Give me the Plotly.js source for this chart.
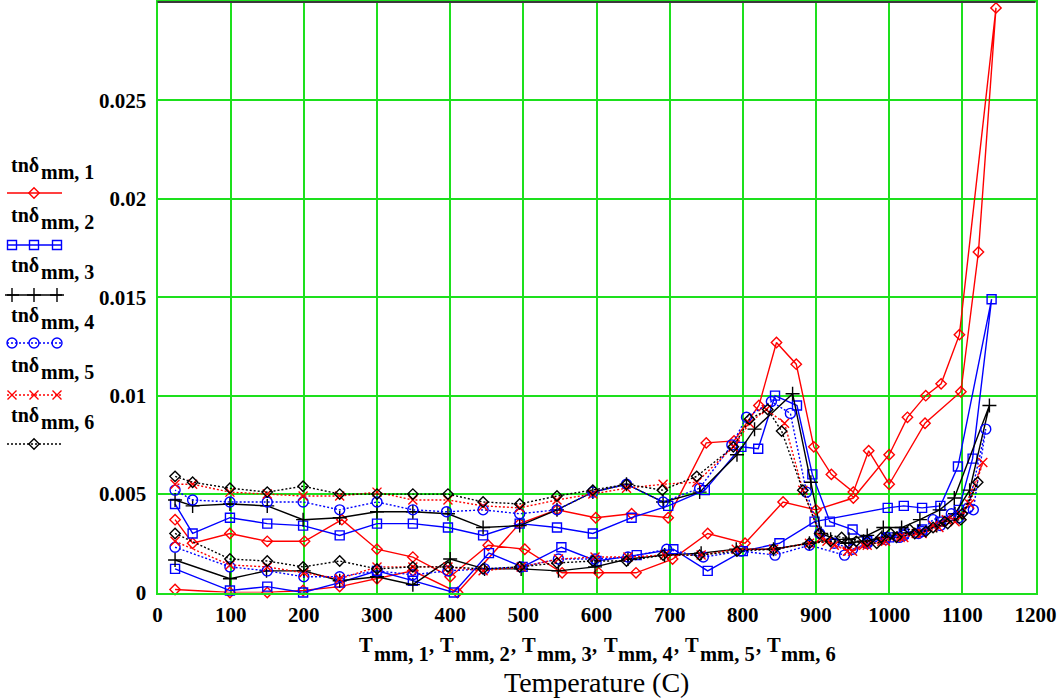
<!DOCTYPE html>
<html><head><meta charset="utf-8">
<script src="https://cdn.plot.ly/plotly-3.0.1.min.js"></script>
<style>html,body{margin:0;padding:0;background:#fff;}#chart{width:1064px;height:698px;}</style>
</head><body><div id="chart"></div>
<script>
// ---------------- DATA ----------------
const xTicks = [0,100,200,300,400,500,600,700,800,900,1000,1100,1200];
const yTicks = [0,0.005,0.01,0.015,0.02,0.025];
const yTickText = ['0','0.005','0.01','0.015','0.02','0.025'];
const seriesLabels = ['1','2','3','4','5','6'];

const t1 = [24,99,150,199,249,300,349,410,495,546,599,648,698,750,788,822,846,873,897,921,951,972,1000,1049,1098,1122,1146,1096,1071,1050,1025,1000,951,900,855,803,752,704,654,603,553,502,452,400,349,300,252,201,150,99,48,24];
const v1 = [0.00015,0,0,0.0001,0.0003,0.0007,0.0011,0,0.0035,0.0042,0.0038,0.0040,0.0038,0.0076,0.0077,0.0095,0.0127,0.0116,0.0074,0.0060,0.0051,0.0072,0.0055,0.0086,0.0102,0.0173,0.0297,0.0131,0.0106,0.0100,0.0089,0.0070,0.0048,0.0042,0.0046,0.0025,0.0030,0.0017,0.0010,0.0010,0.0010,0.0022,0.0024,0.0008,0.0018,0.0022,0.0037,0.0026,0.0026,0.0030,0.0025,0.0037];

const t2 = [24,99,150,199,249,300,349,405,453,499,552,600,655,705,752,800,850,898,998,1020,1045,1070,1094,1140,1114,1095,1070,1045,1020,1000,970,950,919,895,874,844,821,798,748,698,648,595,546,495,445,397,349,300,249,199,150,99,48,24];
const v2 = [0.0012,0.0001,0.0003,0,0.0005,0.0011,0.0006,0,0.0020,0.0013,0.0023,0.0016,0.0019,0.0022,0.0011,0.0021,0.0025,0.0036,0.0043,0.0044,0.0043,0.0044,0.0064,0.0149,0.0068,0.0042,0.0036,0.0032,0.0030,0.0028,0.0026,0.0032,0.0036,0.0060,0.0095,0.0100,0.0073,0.0074,0.0052,0.0044,0.0038,0.0030,0.0033,0.0035,0.0029,0.0033,0.0035,0.0035,0.0029,0.0034,0.0035,0.0038,0.0030,0.0045];

const t3 = [24,99,149,200,249,300,349,400,447,497,548,598,643,693,743,791,842,891,920,945,970,992,1017,1042,1069,1089,1137,1110,1090,1065,1040,1015,990,965,940,907,893,868,816,792,741,691,641,595,546,495,445,397,349,300,249,199,150,99,48,24];
const v3 = [0.00165,0.0007,0.0011,0.0011,0.0006,0.0008,0.0004,0.0017,0.0012,0.0012,0.0011,0.0013,0.0017,0.0019,0.0020,0.0022,0.0022,0.0025,0.0027,0.0027,0.0029,0.0033,0.0033,0.0037,0.0042,0.0048,0.0095,0.0052,0.0040,0.0034,0.0031,0.0030,0.0028,0.0026,0.0025,0.0030,0.0056,0.0101,0.0083,0.0070,0.0051,0.0046,0.0055,0.0051,0.0042,0.0034,0.0033,0.0040,0.0041,0.0041,0.0038,0.0037,0.0044,0.0045,0.0044,0.0047];

const t4 = [24,99,150,200,249,300,349,397,447,497,548,598,643,696,746,798,844,891,939,970,996,1014,1040,1060,1085,1108,1132,1115,1095,1070,1045,1020,995,970,950,925,905,887,865,839,805,785,741,691,641,595,546,495,445,395,349,300,249,199,150,99,48,24];
const v4 = [0.0023,0.0013,0.0011,0.0008,0.0008,0.0011,0.0009,0.0011,0.0012,0.0013,0.0017,0.0017,0.0018,0.0022,0.0018,0.0021,0.0019,0.0024,0.0019,0.0025,0.0028,0.0028,0.0030,0.0037,0.0040,0.0043,0.0083,0.0042,0.0038,0.0034,0.0031,0.0029,0.0027,0.0025,0.0022,0.0025,0.0030,0.0051,0.0091,0.0097,0.0089,0.0075,0.0053,0.0046,0.0055,0.0051,0.0042,0.0040,0.0042,0.0041,0.0042,0.0046,0.0042,0.0046,0.0046,0.0046,0.0047,0.0052];

const t5 = [24,99,150,200,249,300,349,397,445,497,548,598,643,693,743,791,842,891,915,943,965,990,1015,1037,1060,1078,1099,1128,1110,1090,1068,1045,1020,995,970,950,925,907,882,857,832,809,787,737,691,641,595,546,495,445,397,349,300,249,199,150,99,48,24];
const v5 = [0.0026,0.0014,0.0013,0.0010,0.0007,0.0013,0.0013,0.0013,0.0011,0.0013,0.0017,0.0018,0.0018,0.0019,0.0019,0.0022,0.0022,0.0025,0.0026,0.0021,0.0024,0.0026,0.0028,0.0030,0.0034,0.0037,0.0039,0.0066,0.0045,0.0036,0.0033,0.0030,0.0028,0.0026,0.0024,0.0021,0.0024,0.0028,0.0052,0.0086,0.0093,0.0086,0.0074,0.0056,0.0055,0.0053,0.0050,0.0047,0.0043,0.0044,0.0047,0.0047,0.0051,0.0049,0.0049,0.0050,0.0051,0.0055,0.0055];

const t6 = [24,99,150,199,249,300,349,397,445,495,546,595,641,691,741,792,842,891,920,945,970,989,1002,1028,1050,1076,1098,1121,1100,1080,1060,1035,1010,983,955,935,905,882,853,834,809,787,737,690,641,595,546,495,445,397,349,300,249,199,150,99,48,24];
const v6 = [0.0030,0.0017,0.0016,0.0013,0.0016,0.0012,0.0013,0.0013,0.0012,0.0013,0.0015,0.0016,0.0016,0.0019,0.0019,0.0021,0.0022,0.0025,0.0026,0.0025,0.0026,0.0028,0.0030,0.0032,0.0031,0.0036,0.0037,0.0056,0.0040,0.0035,0.0033,0.0030,0.0028,0.0025,0.0026,0.0028,0.0030,0.0052,0.0082,0.0093,0.0088,0.0074,0.0059,0.0052,0.0055,0.0052,0.0049,0.0045,0.0046,0.0050,0.0050,0.0050,0.0050,0.0054,0.0051,0.0053,0.0056,0.0059];

// ---------------- STYLE / LAYOUT ----------------
const W = 1064, H = 698;
const FAM = 'Liberation Serif, Times New Roman, serif';
const GRID = '#1de01d';
const PL = 157.5, PR = 1035.5, PT = 2, PB = 592.5;

const styles = [
  {color:'#ff0000', dash:'solid',   symbol:'diamond-open',    size:8,  legendMarks:[34]},
  {color:'#0000ff', dash:'solid',   symbol:'square-open',     size:9,  legendMarks:[12,34,57]},
  {color:'#000000', dash:'solid',   symbol:'cross-thin-open', size:10, legendMarks:[12,34,57]},
  {color:'#0000ff', dash:'2px,2px', symbol:'circle-open',     size:10, legendMarks:[12,34,57]},
  {color:'#ff0000', dash:'2px,2px', symbol:'x-thin-open',     size:9,  legendMarks:[12,34,57]},
  {color:'#000000', dash:'2px,2px', symbol:'diamond-open',    size:8,  legendMarks:[34]}
];
const dataT = [t1,t2,t3,t4,t5,t6];
const dataV = [v1,v2,v3,v4,v5,v6];

const traces = [];
for (let i = 0; i < 6; i++) {
  const s = styles[i];
  traces.push({
    x: dataT[i], y: dataV[i], type:'scatter', mode:'lines+markers',
    line:{color:s.color, width:1.4, dash:s.dash},
    marker:{symbol:s.symbol, size:s.size, color:s.color, line:{color:s.color, width:1.4}},
    cliponaxis:false, hoverinfo:'skip', xaxis:'x', yaxis:'y'
  });
}

// legend samples (drawn in a hidden pixel-space axis at the left)
const legendLineY = [193, 245, 295, 343, 395, 444];
const legendTextBase = [172, 222, 272, 322, 372, 422];
for (let i = 0; i < 6; i++) {
  const s = styles[i];
  traces.push({x:[7,62], y:[legendLineY[i],legendLineY[i]], mode:'lines', xaxis:'x2', yaxis:'y2',
    line:{color:s.color, width:1.4, dash:s.dash}, hoverinfo:'skip'});
  traces.push({x:s.legendMarks, y:s.legendMarks.map(()=>legendLineY[i]), mode:'markers', xaxis:'x2', yaxis:'y2',
    marker:{symbol:s.symbol, size:s.size, color:s.color, line:{color:s.color, width:1.4}}, hoverinfo:'skip', cliponaxis:false});
}

// text helpers
const cv = document.createElement('canvas').getContext('2d');
function tw(txt, size, bold) { cv.font = (bold ? 'bold ' : '') + size + "px 'Liberation Serif', serif"; return cv.measureText(txt).width; }
function textAt(txt, px, baseY, size, bold, anchor) {
  return {xref:'paper', yref:'paper', x:px/W, y:1-(baseY-0.3375*size)/H, xanchor:anchor||'left', yanchor:'middle',
    text:txt, showarrow:false, borderpad:0, font:{family:FAM, size:size, color:'#000', weight: bold?700:400}};
}
const annotations = [];
// legend labels
for (let i = 0; i < 6; i++) {
  const w0 = tw('tnδ', 20, true);
  annotations.push(textAt('tnδ', 10, legendTextBase[i], 20, true));
  annotations.push(textAt('mm, ' + seriesLabels[i], 12 + w0, legendTextBase[i] + 7, 20, true));
}
// x-axis composite title: T_mm,1, T_mm,2, ...
(function(){
  const segs = [];
  for (let k = 0; k < 6; k++) {
    segs.push({t:'T', d:0, adv:'T'});
    segs.push({t:'mm, ' + seriesLabels[k], d:8.5, adv:'mm, ' + seriesLabels[k]});
    if (k < 5) segs.push({t:',', d:0, adv:', '});
  }
  const sz = 20.5, gap = 1;
  let total = 0; segs.forEach(s => { s.w = tw(s.adv, sz, true) + gap; total += s.w; });
  total -= gap;
  let x = (PL + PR)/2 - total/2;
  segs.forEach(s => { annotations.push(textAt(s.t, x, 652 + s.d, sz, true)); x += s.w; });
})();
annotations.push(textAt('Temperature (C)', (PL+PR)/2, 692, 28, false, 'center'));

const tickFont = {family:FAM, size:21, color:'#000', weight:700};
const layout = {
  width:W, height:H, margin:{l:0,r:0,t:0,b:0,pad:0},
  paper_bgcolor:'#ffffff', plot_bgcolor:'#ffffff', showlegend:false,
  xaxis:{domain:[PL/W, PR/W], range:[0,1200], tickvals:xTicks, ticktext:xTicks.map(String),
    showgrid:true, gridcolor:GRID, gridwidth:2, zeroline:false, showline:true, linecolor:GRID, linewidth:2, mirror:true,
    ticks:'', tickfont:tickFont, ticklabelstandoff:2, anchor:'y'},
  yaxis:{domain:[1-PB/H, 1-PT/H], range:[0,0.03], tickvals:yTicks, ticktext:yTickText,
    showgrid:true, gridcolor:GRID, gridwidth:2, zeroline:false, showline:true, linecolor:GRID, linewidth:2, mirror:true,
    ticks:'', tickfont:tickFont, ticklabelstandoff:5, anchor:'x'},
  xaxis2:{domain:[0,150/W], range:[0,150], visible:false, anchor:'y2', fixedrange:true},
  yaxis2:{domain:[0,1], range:[H,0], visible:false, anchor:'x2', fixedrange:true},
  shapes:[{type:'line', xref:'paper', yref:'paper', x0:PL/W, x1:PR/W, y0:1-PT/H, y1:1-PT/H, line:{color:'#3a3a3a', width:2}, layer:'above'}],
  annotations:annotations
};
Plotly.newPlot('chart', traces, layout, {displayModeBar:false, staticPlot:true});
</script>
</body></html>
